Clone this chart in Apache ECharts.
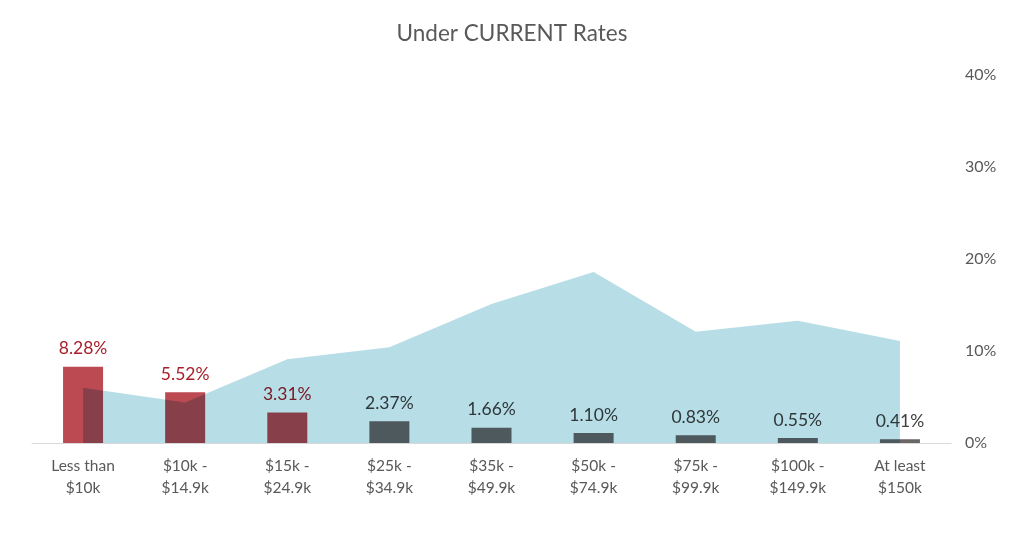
<!DOCTYPE html>
<html>
<head>
<meta charset="utf-8">
<script src="https://cdn.jsdelivr.net/npm/echarts@6/dist/echarts.min.js"></script>
<style>html,body{margin:0;padding:0;background:#fff;}#c{width:1024px;height:539px;}</style>
</head>
<body>
<div id="c"></div>
<script>
var categories = ['Less than\n$10k', '$10k -\n$14.9k', '$15k -\n$24.9k', '$25k -\n$34.9k', '$35k -\n$49.9k', '$50k -\n$74.9k', '$75k -\n$99.9k', '$100k -\n$149.9k', 'At least\n$150k'];
var rateValues = [0.0828, 0.0552, 0.0331, 0.0237, 0.0166, 0.0110, 0.0083, 0.0055, 0.0041];
var shareValues = [0.060, 0.044, 0.091, 0.104, 0.151, 0.186, 0.121, 0.133, 0.111];
var yTicks = [0, 0.1, 0.2, 0.3, 0.4];

var FONT = 'Lato, "Open Sans", sans-serif';
var chart = echarts.init(document.getElementById('c'));

var barData = rateValues.map(function (v, i) {
  return i < 3
    ? { value: v, itemStyle: { color: '#bc4a52' }, label: { color: '#a8202a' } }
    : { value: v, itemStyle: { color: '#6b6666' }, label: { color: '#404040' } };
});

chart.setOption({
  animation: false,
  backgroundColor: '#ffffff',
  title: {
    text: 'Under CURRENT Rates',
    left: 'center',
    top: 17,
    textStyle: { fontFamily: FONT, fontSize: 22.5, fontWeight: 'normal', color: '#595959' }
  },
  grid: { left: 32, right: 73, top: 75, bottom: 96 },
  xAxis: {
    type: 'category',
    data: categories,
    axisLine: { lineStyle: { color: '#d9d9d9', width: 1 } },
    axisTick: { show: false },
    axisLabel: { fontFamily: FONT, fontSize: 15.5, color: '#595959', lineHeight: 22, margin: 12, interval: 0 }
  },
  yAxis: {
    type: 'value',
    position: 'right',
    min: yTicks[0],
    max: yTicks[yTicks.length - 1],
    interval: 0.1,
    splitLine: { show: false },
    axisLine: { show: false },
    axisTick: { show: false },
    axisLabel: {
      fontFamily: FONT, fontSize: 16, color: '#595959', margin: 14,
      formatter: function (v) { return Math.round(v * 100) + '%'; }
    }
  },
  series: [
    {
      type: 'bar',
      data: barData,
      barWidth: 40,
      z: 2,
      label: {
        show: true,
        position: 'top',
        distance: 9,
        fontFamily: FONT,
        fontSize: 17.5,
        formatter: function (p) { return (p.value * 100).toFixed(2) + '%'; }
      }
    },
    {
      type: 'line',
      data: shareValues,
      symbol: 'none',
      z: 3,
      blendMode: 'multiply',
      lineStyle: { width: 0 },
      areaStyle: { color: '#b7dde6', opacity: 1 },
      silent: true
    }
  ]
});
</script>
</body>
</html>
